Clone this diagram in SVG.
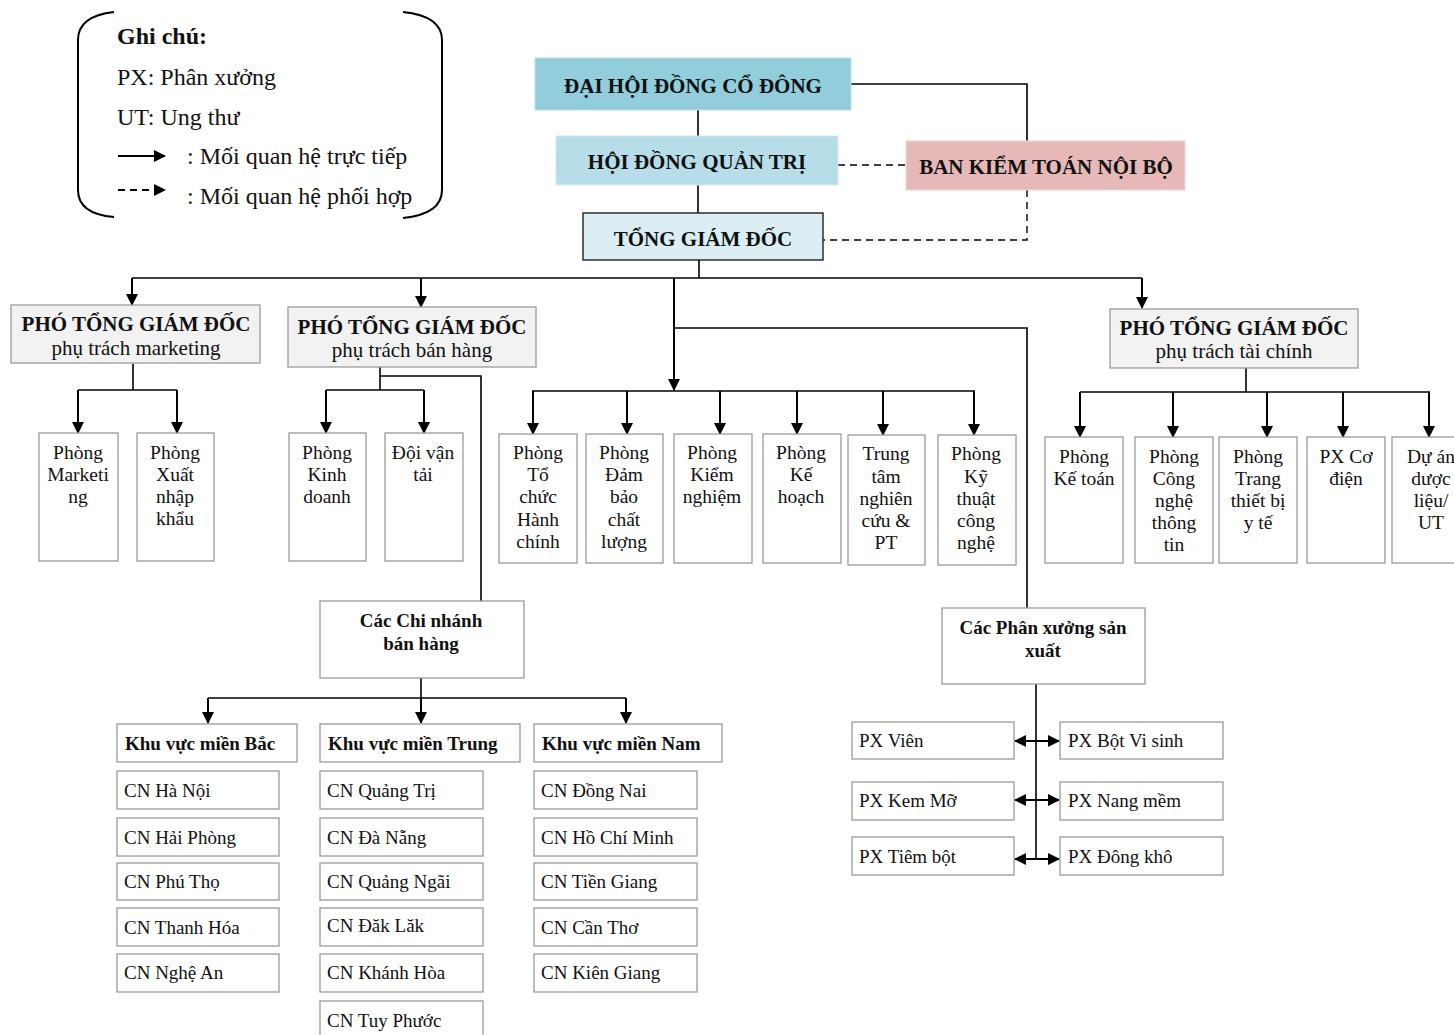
<svg xmlns="http://www.w3.org/2000/svg" width="1454" height="1035" viewBox="0 0 1454 1035">
<defs>
<marker id="ah" markerUnits="userSpaceOnUse" markerWidth="12" markerHeight="12" refX="11" refY="6" orient="auto-start-reverse"><path d="M0,0 L12,6 L0,12 z" fill="#000"/></marker>
<style>
text{font-family:"Liberation Serif","Times New Roman",serif;fill:#111}
.t{font-size:19.5px;text-anchor:middle}
.tl{font-size:19px}
.b{font-weight:bold}
.top{font-size:21px;font-weight:bold;text-anchor:middle}
.ph{font-size:21px;font-weight:bold;text-anchor:middle}
.ps{font-size:21px;text-anchor:middle}
.lg{font-size:24px}
.cb{font-size:19px;font-weight:bold;text-anchor:middle}
.box{fill:#fff;stroke:#9a9a9a;stroke-width:1.3}
.gray{fill:#f2f2f2;stroke:#9a9a9a;stroke-width:1.3}
.c{fill:none;stroke:#000;stroke-width:1.6}
.a{fill:none;stroke:#000;stroke-width:2;marker-end:url(#ah)}
.d{fill:none;stroke:#000;stroke-width:1.4;stroke-dasharray:7,5}
</style>
</defs>
<rect width="1454" height="1035" fill="#fff"/>

<g id="legend">
<path d="M114,12 Q78,16 78,40 L78,190 Q78,214 114,217" fill="none" stroke="#000" stroke-width="2"/>
<path d="M403,12 Q442,16 442,40 L442,190 Q442,214 403,218" fill="none" stroke="#000" stroke-width="2"/>
<text class="lg b" x="117" y="44">Ghi chú:</text>
<text class="lg" x="117" y="85">PX: Phân xưởng</text>
<text class="lg" x="117" y="125">UT: Ung thư</text>
<line x1="118" y1="156" x2="165" y2="156" class="a"/>
<text class="lg" x="187" y="164">: Mối quan hệ trực tiếp</text>
<line x1="118" y1="190" x2="165" y2="190" class="d" style="marker-end:url(#ah);stroke-width:2"/>
<text class="lg" x="187" y="204">: Mối quan hệ phối hợp</text>
</g>

<g id="connectors">
<line x1="698" y1="110" x2="698" y2="136" class="c"/>
<line x1="698" y1="185" x2="698" y2="213" class="c"/>
<polyline points="851,84 1027,84 1027,141" class="c"/>
<line x1="838" y1="165" x2="906" y2="165" class="d"/>
<polyline points="1027,190 1027,240 823,240" class="d"/>
<line x1="699" y1="260" x2="699" y2="278" class="c"/>
<line x1="132" y1="278" x2="1142" y2="278" class="c"/>
<line x1="132" y1="278" x2="132" y2="305" class="a"/>
<line x1="421" y1="278" x2="421" y2="307" class="a"/>
<line x1="1142" y1="278" x2="1142" y2="308" class="a"/>
<line x1="674" y1="278" x2="674" y2="390" class="a"/>
<polyline points="674,328 1027,328 1027,608" class="c"/>
<line x1="532" y1="391" x2="975" y2="391" class="c"/>
<line x1="533" y1="391" x2="533" y2="434" class="a"/>
<line x1="627" y1="391" x2="627" y2="434" class="a"/>
<line x1="720" y1="391" x2="720" y2="434" class="a"/>
<line x1="797" y1="391" x2="797" y2="434" class="a"/>
<line x1="883" y1="391" x2="883" y2="435" class="a"/>
<line x1="974" y1="391" x2="974" y2="435" class="a"/>
<line x1="133" y1="364" x2="133" y2="390" class="c"/>
<line x1="78" y1="390" x2="177" y2="390" class="c"/>
<line x1="78" y1="390" x2="78" y2="433" class="a"/>
<line x1="177" y1="390" x2="177" y2="433" class="a"/>
<line x1="380" y1="367" x2="380" y2="390" class="c"/>
<line x1="326" y1="390" x2="424" y2="390" class="c"/>
<line x1="326" y1="390" x2="326" y2="433" class="a"/>
<line x1="424" y1="390" x2="424" y2="433" class="a"/>
<polyline points="380,376 481,376 481,601" class="c"/>
<line x1="1246" y1="368" x2="1246" y2="392" class="c"/>
<line x1="1080" y1="392" x2="1430" y2="392" class="c"/>
<line x1="1080" y1="392" x2="1080" y2="437" class="a"/>
<line x1="1173" y1="392" x2="1173" y2="437" class="a"/>
<line x1="1267" y1="392" x2="1267" y2="437" class="a"/>
<line x1="1343" y1="392" x2="1343" y2="437" class="a"/>
<line x1="1429" y1="392" x2="1429" y2="437" class="a"/>
<line x1="421" y1="678" x2="421" y2="698" class="c"/>
<line x1="208" y1="698" x2="626" y2="698" class="c"/>
<line x1="208" y1="698" x2="208" y2="723" class="a"/>
<line x1="421" y1="698" x2="421" y2="723" class="a"/>
<line x1="626" y1="698" x2="626" y2="723" class="a"/>
<line x1="1036" y1="684" x2="1036" y2="859" class="c"/>
<line x1="1015" y1="741" x2="1059" y2="741" class="a" style="marker-start:url(#ah)"/>
<line x1="1015" y1="800" x2="1059" y2="800" class="a" style="marker-start:url(#ah)"/>
<line x1="1015" y1="859" x2="1059" y2="859" class="a" style="marker-start:url(#ah)"/>
</g>

<g id="dhdcd"><rect x="535" y="58" width="316" height="52" fill="#92cddc" stroke="#b9e0ea"/><text class="top" x="693" y="93">ĐẠI HỘI ĐỒNG CỔ ĐÔNG</text></g>
<g id="hdqt"><rect x="556" y="136" width="282" height="49" fill="#b7dee8" stroke="#d2eaf0"/><text class="top" x="697" y="169">HỘI ĐỒNG QUẢN TRỊ</text></g>
<g id="bktnb"><rect x="906" y="141" width="279" height="49" fill="#e6b9b8" stroke="#f0d4d3"/><text class="top" x="1046" y="174">BAN KIỂM TOÁN NỘI BỘ</text></g>
<g id="tgd"><rect x="583" y="213" width="240" height="47" fill="#daeef3" stroke="#222" stroke-width="1.4"/><text class="top" x="703" y="246">TỔNG GIÁM ĐỐC</text></g>

<g id="ptgd-mkt"><rect x="11" y="305" width="249" height="58" class="gray"/><text class="ph" x="136" y="331">PHÓ TỔNG GIÁM ĐỐC</text><text class="ps" x="136" y="355">phụ trách marketing</text></g>
<g id="ptgd-bh"><rect x="288" y="307" width="248" height="60" class="gray"/><text class="ph" x="412" y="334">PHÓ TỔNG GIÁM ĐỐC</text><text class="ps" x="412" y="357">phụ trách bán hàng</text></g>
<g id="ptgd-tc"><rect x="1110" y="309" width="248" height="59" class="gray"/><text class="ph" x="1234" y="335">PHÓ TỔNG GIÁM ĐỐC</text><text class="ps" x="1234" y="358">phụ trách tài chính</text></g>

<g id="p-marketing"><rect x="39" y="433" width="79" height="128" class="box"/><text class="t" x="78" y="459">Phòng</text><text class="t" x="78" y="481">Marketi</text><text class="t" x="78" y="503">ng</text></g>
<g id="p-xnk"><rect x="137" y="433" width="77" height="128" class="box"/><text class="t" x="175" y="459">Phòng</text><text class="t" x="175" y="481">Xuất</text><text class="t" x="175" y="503">nhập</text><text class="t" x="175" y="525">khẩu</text></g>
<g id="p-kd"><rect x="289" y="433" width="77" height="128" class="box"/><text class="t" x="327" y="459">Phòng</text><text class="t" x="327" y="481">Kinh</text><text class="t" x="327" y="503">doanh</text></g>
<g id="doi-vt"><rect x="385" y="433" width="78" height="128" class="box"/><text class="t" x="423" y="459">Đội vận</text><text class="t" x="423" y="481">tải</text></g>

<g id="p-tchc"><rect x="499" y="434" width="78" height="129" class="box"/><text class="t" x="538" y="459">Phòng</text><text class="t" x="538" y="481">Tổ</text><text class="t" x="538" y="503">chức</text><text class="t" x="538" y="526">Hành</text><text class="t" x="538" y="548">chính</text></g>
<g id="p-dbcl"><rect x="586" y="434" width="77" height="129" class="box"/><text class="t" x="624" y="459">Phòng</text><text class="t" x="624" y="481">Đảm</text><text class="t" x="624" y="503">bảo</text><text class="t" x="624" y="526">chất</text><text class="t" x="624" y="548">lượng</text></g>
<g id="p-kn"><rect x="674" y="434" width="78" height="129" class="box"/><text class="t" x="712" y="459">Phòng</text><text class="t" x="712" y="481">Kiểm</text><text class="t" x="712" y="503">nghiệm</text></g>
<g id="p-kh"><rect x="763" y="434" width="78" height="129" class="box"/><text class="t" x="801" y="459">Phòng</text><text class="t" x="801" y="481">Kế</text><text class="t" x="801" y="503">hoạch</text></g>
<g id="ttnc"><rect x="848" y="435" width="77" height="130" class="box"/><text class="t" x="886" y="460">Trung</text><text class="t" x="886" y="483">tâm</text><text class="t" x="886" y="505">nghiên</text><text class="t" x="886" y="527">cứu &amp;</text><text class="t" x="886" y="549">PT</text></g>
<g id="p-ktcn"><rect x="938" y="435" width="78" height="130" class="box"/><text class="t" x="976" y="460">Phòng</text><text class="t" x="976" y="483">Kỹ</text><text class="t" x="976" y="505">thuật</text><text class="t" x="976" y="527">công</text><text class="t" x="976" y="549">nghệ</text></g>

<g id="p-kt"><rect x="1045" y="437" width="78" height="126" class="box"/><text class="t" x="1084" y="463">Phòng</text><text class="t" x="1084" y="485">Kế toán</text></g>
<g id="p-cntt"><rect x="1135" y="437" width="78" height="126" class="box"/><text class="t" x="1174" y="463">Phòng</text><text class="t" x="1174" y="485">Công</text><text class="t" x="1174" y="507">nghệ</text><text class="t" x="1174" y="529">thông</text><text class="t" x="1174" y="551">tin</text></g>
<g id="p-ttb"><rect x="1219" y="437" width="78" height="126" class="box"/><text class="t" x="1258" y="463">Phòng</text><text class="t" x="1258" y="485">Trang</text><text class="t" x="1258" y="507">thiết bị</text><text class="t" x="1258" y="529">y tế</text></g>
<g id="px-cd"><rect x="1307" y="437" width="78" height="126" class="box"/><text class="t" x="1346" y="463">PX Cơ</text><text class="t" x="1346" y="485">điện</text></g>
<g id="da-dl"><rect x="1392" y="437" width="70" height="126" class="box"/><text class="t" x="1431" y="463">Dự án</text><text class="t" x="1431" y="485">dược</text><text class="t" x="1431" y="507">liệu/</text><text class="t" x="1431" y="529">UT</text></g>

<g id="cn-bh"><rect x="320" y="601" width="204" height="77" class="box"/><text class="cb" x="421" y="627">Các Chi nhánh</text><text class="cb" x="421" y="650">bán hàng</text></g>
<g id="px-sx"><rect x="942" y="608" width="203" height="76" class="box"/><text class="cb" x="1043" y="634">Các Phân xưởng sản</text><text class="cb" x="1043" y="657">xuất</text></g>

<g id="kv-bac"><rect x="117" y="724" width="180" height="38" class="box"/><text class="tl b" x="125" y="750">Khu vực miền Bắc</text></g>
<g id="kv-trung"><rect x="320" y="724" width="200" height="38" class="box"/><text class="tl b" x="328" y="750">Khu vực miền Trung</text></g>
<g id="kv-nam"><rect x="534" y="724" width="188" height="38" class="box"/><text class="tl b" x="542" y="750">Khu vực miền Nam</text></g>

<g id="cn-hn"><rect x="117" y="771" width="162" height="38" class="box"/><text class="tl" x="124" y="797">CN Hà Nội</text></g>
<g id="cn-hp"><rect x="117" y="818" width="162" height="38" class="box"/><text class="tl" x="124" y="844">CN Hải Phòng</text></g>
<g id="cn-pt"><rect x="117" y="863" width="162" height="37" class="box"/><text class="tl" x="124" y="888">CN Phú Thọ</text></g>
<g id="cn-th"><rect x="117" y="908" width="162" height="38" class="box"/><text class="tl" x="124" y="934">CN Thanh Hóa</text></g>
<g id="cn-na"><rect x="117" y="954" width="162" height="38" class="box"/><text class="tl" x="124" y="979">CN Nghệ An</text></g>

<g id="cn-qt"><rect x="320" y="771" width="163" height="38" class="box"/><text class="tl" x="327" y="797">CN Quảng Trị</text></g>
<g id="cn-dn"><rect x="320" y="818" width="163" height="38" class="box"/><text class="tl" x="327" y="844">CN Đà Nẵng</text></g>
<g id="cn-qn"><rect x="320" y="863" width="163" height="37" class="box"/><text class="tl" x="327" y="888">CN Quảng Ngãi</text></g>
<g id="cn-dl"><rect x="320" y="908" width="163" height="38" class="box"/><text class="tl" x="327" y="932">CN Đăk Lăk</text></g>
<g id="cn-kh"><rect x="320" y="954" width="163" height="38" class="box"/><text class="tl" x="327" y="979">CN Khánh Hòa</text></g>
<g id="cn-tp"><rect x="320" y="1001" width="163" height="40" class="box"/><text class="tl" x="327" y="1027">CN Tuy Phước</text></g>

<g id="cn-dnai"><rect x="534" y="771" width="163" height="38" class="box"/><text class="tl" x="541" y="797">CN Đồng Nai</text></g>
<g id="cn-hcm"><rect x="534" y="818" width="163" height="38" class="box"/><text class="tl" x="541" y="844">CN Hồ Chí Minh</text></g>
<g id="cn-tg"><rect x="534" y="863" width="163" height="37" class="box"/><text class="tl" x="541" y="888">CN Tiền Giang</text></g>
<g id="cn-ct"><rect x="534" y="908" width="163" height="38" class="box"/><text class="tl" x="541" y="934">CN Cần Thơ</text></g>
<g id="cn-kg"><rect x="534" y="954" width="163" height="38" class="box"/><text class="tl" x="541" y="979">CN Kiên Giang</text></g>

<g id="px-vien"><rect x="852" y="722" width="162" height="37" class="box"/><text class="tl" x="859" y="747">PX Viên</text></g>
<g id="px-kem"><rect x="852" y="782" width="162" height="38" class="box"/><text class="tl" x="859" y="807">PX Kem Mỡ</text></g>
<g id="px-tiem"><rect x="852" y="837" width="162" height="38" class="box"/><text class="tl" x="859" y="863">PX Tiêm bột</text></g>
<g id="px-bot"><rect x="1060" y="722" width="163" height="37" class="box"/><text class="tl" x="1068" y="747">PX Bột Vi sinh</text></g>
<g id="px-nang"><rect x="1060" y="782" width="163" height="38" class="box"/><text class="tl" x="1068" y="807">PX Nang mềm</text></g>
<g id="px-dk"><rect x="1060" y="837" width="163" height="38" class="box"/><text class="tl" x="1068" y="863">PX Đông khô</text></g>
</svg>
